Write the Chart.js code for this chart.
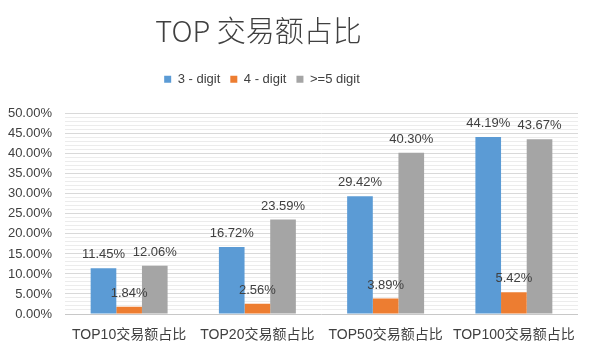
<!DOCTYPE html>
<html lang="zh">
<head>
  <meta charset="UTF-8" />
  <title>TOP 交易额占比</title>
  <script src="https://cdn.jsdelivr.net/npm/chart.js"></script>
  <style>
    html, body { margin: 0; padding: 0; background: #fff; }
    .wrap { width: 596px; height: 352px; }
  </style>
</head>
<body>
  <div class="wrap"><canvas id="barChart"></canvas></div>

  <script>
    // data
    const categories = ['TOP10交易额占比', 'TOP20交易额占比', 'TOP50交易额占比', 'TOP100交易额占比'];
    const seriesNames = ['3 - digit', '4 - digit', '>=5 digit'];
    const threeDigit = [11.45, 16.72, 29.42, 44.19];
    const fourDigit = [1.84, 2.56, 3.89, 5.42];
    const fivePlus = [12.06, 23.59, 40.30, 43.67];
    const colors = ['#5B9BD5', '#ED7D31', '#A5A5A5'];

    const latin = '"Liberation Sans", "Noto Sans CJK SC", sans-serif';

    // draw the value above each bar
    const valueLabels = {
      id: 'valueLabels',
      afterDatasetsDraw(chart) {
        const ctx = chart.ctx;
        ctx.save();
        ctx.font = '13px ' + latin;
        ctx.fillStyle = '#404040';
        ctx.textAlign = 'center';
        ctx.textBaseline = 'bottom';
        chart.data.datasets.forEach((ds, i) => {
          chart.getDatasetMeta(i).data.forEach((bar, j) => {
            ctx.fillText(ds.data[j].toFixed(2) + '%', bar.x, bar.y - 7);
          });
        });
        ctx.restore();
      }
    };

    // extra room under the legend
    const legendGap = {
      id: 'legendGap',
      beforeInit(chart) {
        const fit = chart.legend.fit;
        chart.legend.fit = function () {
          fit.bind(chart.legend)();
          this.height += 18;
        };
      }
    };

    // title and legend sit a bit left of the middle in the original
    const shiftHeader = {
      id: 'shiftHeader',
      afterLayout(chart) {
        if (chart.titleBlock) chart.titleBlock.right -= 61;
        if (chart.legend) chart.legend.right -= 54;
      }
    };

    const whiteBg = {
      id: 'whiteBg',
      beforeDraw(chart) {
        const ctx = chart.ctx;
        ctx.save();
        ctx.fillStyle = '#fff';
        ctx.fillRect(0, 0, chart.width, chart.height);
        ctx.restore();
      }
    };

    new Chart(document.getElementById('barChart'), {
      type: 'bar',
      data: {
        labels: categories,
        datasets: [
          { label: seriesNames[0], data: threeDigit, backgroundColor: colors[0] },
          { label: seriesNames[1], data: fourDigit, backgroundColor: colors[1] },
          { label: seriesNames[2], data: fivePlus, backgroundColor: colors[2] }
        ]
      },
      options: {
        responsive: true,
        maintainAspectRatio: false,
        animation: false,
        layout: { padding: { right: 18, bottom: 0 } },
        datasets: { bar: { categoryPercentage: 0.6, barPercentage: 1.0 } },
        plugins: {
          title: {
            display: true,
            text: 'TOP 交易额占比',
            color: '#404040',
            font: { family: '"Noto Sans CJK SC", sans-serif', size: 29, weight: '300' },
            padding: { top: 14, bottom: 14 }
          },
          legend: {
            position: 'top',
            labels: {
              boxWidth: 7,
              boxHeight: 7,
              padding: 10,
              color: '#404040',
              font: { family: latin, size: 13 }
            }
          },
          tooltip: { enabled: false }
        },
        scales: {
          x: {
            afterFit(scale) { scale.height = 38; },
            grid: { display: false, drawTicks: false },
            border: { display: false },
            ticks: { color: '#404040', padding: 13, font: { family: latin, size: 14 }, maxRotation: 0 }
          },
          y: {
            min: 0,
            max: 50,
            afterFit(scale) { scale.width = 65; },
            border: { display: false },
            grid: {
              drawTicks: false,
              color: c => c.tick.value === 0 ? '#c8c8c8' : (c.tick.value % 5 === 0 ? '#d9d9d9' : '#ececec')
            },
            ticks: {
              stepSize: 1,
              autoSkip: false,
              padding: 13,
              color: '#404040',
              font: { family: latin, size: 13 },
              callback: v => v % 5 === 0 ? v.toFixed(2) + '%' : ''
            }
          }
        }
      },
      plugins: [whiteBg, legendGap, shiftHeader, valueLabels]
    });
  </script>
</body>
</html>
